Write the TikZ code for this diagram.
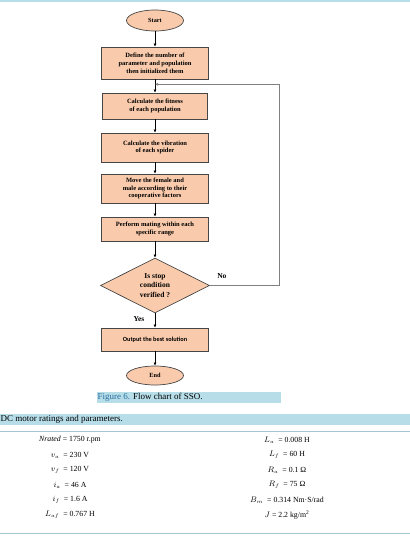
\documentclass[tikz,border=0pt]{standalone}
\usepackage{fontspec}
\setmainfont{Liberation Serif}
\newfontfamily\calibri{Carlito}
\usetikzlibrary{calc,shapes.geometric,arrows.meta}

\definecolor{peach}{RGB}{249,203,172}
\definecolor{edgegray}{RGB}{70,70,70}
\definecolor{capblue}{RGB}{183,221,232}
\definecolor{figblue}{RGB}{40,110,160}
\definecolor{rulegray}{RGB}{165,198,208}

\begin{document}
\begin{tikzpicture}[x=1pt, y=-1pt,
    stepbox/.style={rectangle, draw=edgegray, line width=0.7pt, fill=peach, minimum width=107pt,
        align=center, inner sep=1pt, font=\fontsize{6.5}{7.8}\selectfont\bfseries},
    terminal/.style={ellipse, draw=edgegray, line width=0.7pt, fill=peach, minimum width=57pt,
        inner sep=0pt, font=\fontsize{6.3}{7}\selectfont\bfseries},
    flow/.style={-{Latex[length=3pt,width=3pt]}, line width=0.6pt},
    cell/.style={inner sep=0pt, font=\fontsize{7.8}{9}\selectfont}]
    \useasboundingbox (0,0) rectangle (410,536);
    \fill[capblue] (0,0) rectangle (410,2);

    \node (start) at (155,20.5) [terminal, minimum height=21pt] {Start};
    \node (define) at ($(start) + (0,42.5)$) [stepbox, minimum height=32pt]
        {Define the number of\\parameter and population\\then initialized them};
    \node (fitness) at ($(define) + (0,43)$) [stepbox, minimum height=26pt, minimum width=105pt]
        {Calculate the fitness\\of each population};
    \node (vibration) at ($(fitness) + (0,41.5)$) [stepbox, minimum height=29pt]
        {Calculate the vibration\\of each spider};
    \node (move) at ($(vibration) + (0,41)$) [stepbox, minimum height=29pt]
        {Move the female and\\male according to their\\cooperative factors};
    \node (mating) at ($(move) + (0,40.5)$) [stepbox, minimum height=24pt]
        {Perform mating within each\\specific range};
    \node (cond) at ($(mating) + (0,56.5)$) [diamond, aspect=2, draw=edgegray, line width=0.7pt,
        fill=peach, minimum width=109pt, minimum height=55pt, inner sep=0pt, align=center,
        font=\fontsize{7.5}{9.5}\selectfont\bfseries] {Is stop\\condition\\verified ?};
    \node (output) at ($(cond) + (0,54)$) [stepbox, minimum height=23pt,
        font=\fontsize{6.3}{7.6}\selectfont\calibri\bfseries] {Output the best solution};
    \node (end) at ($(output) + (0,36)$) [terminal, minimum height=19pt] {End};

    \coordinate (join) at ($(define.south) + (0,5)$);
    \coordinate (back) at ($(join) + (124,0)$);

    \draw (start) edge[flow] (define);
    \draw (define) edge[flow] (fitness);
    \draw (fitness) edge[flow] (vibration);
    \draw (vibration) edge[flow] (move);
    \draw (move) edge[flow] (mating);
    \draw (mating) edge[flow] (cond);
    \draw (cond) edge[flow] node [left=7pt, pos=0.4, font=\fontsize{7.5}{8}\selectfont\bfseries] {Yes} (output);
    \draw (output) edge[flow] (end);
    \draw[flow, draw=gray] (cond.east) -| (back) -- (join);
    \node (no) at ($(cond.east) + (12,-9)$) [font=\fontsize{7.5}{8}\selectfont\bfseries] {No};

    % caption and table
    \fill[capblue] (97,392) rectangle (281,403);
    \node (caption) at (97,397.5) [anchor=west, inner sep=0.5pt, font=\fontsize{9}{10}\selectfont]
        {\textcolor{figblue}{Figure 6.} Flow chart of SSO.};
    \fill[capblue] (0,414) rectangle (410,425);
    \node (tabtitle) at (0.5,419.5) [anchor=west, inner sep=0pt, font=\fontsize{9}{10}\selectfont]
        {DC motor ratings and parameters.};
    \draw[rulegray, line width=0.8pt] (0,431) -- (410,431);
    \draw[rulegray, line width=1.2pt] (0,533.5) -- (410,533.5);

    \node (Nrated) at (70,440) [cell] {\textit{Nrated} = 1750 r.pm};
    \node (va) at ($(Nrated) + (0,15)$) [cell] {$v_a$\enspace= 230 V};
    \node (vf) at ($(va) + (0,15)$) [cell] {$v_f$\enspace= 120 V};
    \node (ia) at ($(vf) + (0,15)$) [cell] {$i_a$\enspace= 46 A};
    \node (if) at ($(ia) + (0,15)$) [cell] {$i_f$\enspace= 1.6 A};
    \node (Laf) at ($(if) + (0,15)$) [cell] {$L_{af}$\enspace= 0.767 H};

    \node (La) at (287,440) [cell] {$L_a$\enspace= 0.008 H};
    \node (Lf) at ($(La) + (0,15)$) [cell] {$L_f$\enspace= 60 H};
    \node (Ra) at ($(Lf) + (0,15)$) [cell] {$R_a$\enspace= 0.1 Ω};
    \node (Rf) at ($(Ra) + (0,15)$) [cell] {$R_f$\enspace= 75 Ω};
    \node (Bm) at ($(Rf) + (0,15)$) [cell] {$B_m$\enspace= 0.314 Nm·S/rad};
    \node (J) at ($(Bm) + (0,15)$) [cell] {$J$ = 2.2 kg/m\textsuperscript{2}};
\end{tikzpicture}
\end{document}
